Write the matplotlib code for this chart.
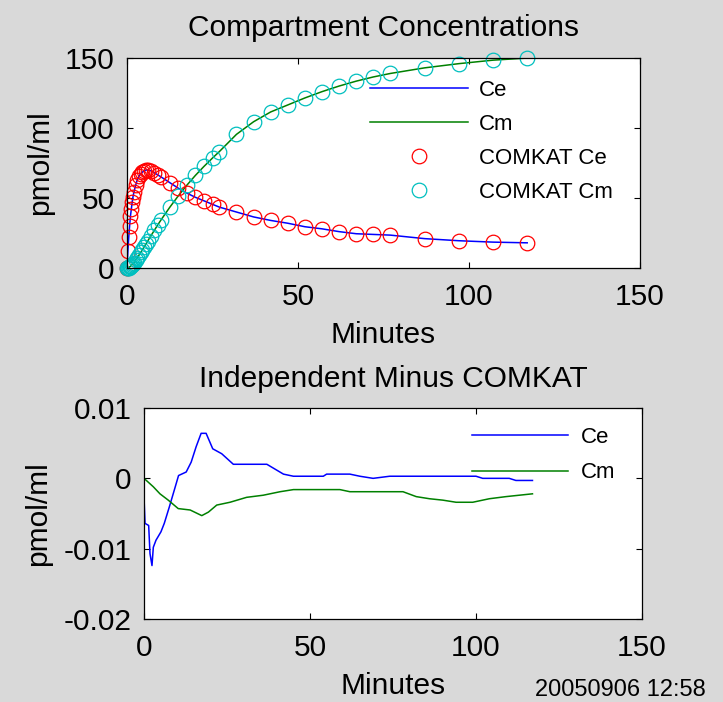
import matplotlib
matplotlib.use('Agg')
import matplotlib.pyplot as plt

plt.rcParams['font.family'] = ['Liberation Sans', 'DejaVu Sans']

# --- sample times (minutes) and compartment concentrations (pmol/ml) ---
t = [0, 0.25, 0.5, 0.75, 1, 1.25, 1.5, 1.75, 2, 2.5, 3, 3.5, 4, 4.5, 5, 5.5, 6,
     7, 8, 9, 10, 12.5, 15, 17.5, 20, 22.5, 25, 27, 32, 37, 42, 47, 52, 57, 62,
     67, 72, 77, 87, 97, 107, 117]
ce = [0, 12, 22, 30, 37, 42, 47, 51, 54, 59, 63, 65.5, 67.5, 68.5, 69.5, 70, 70,
      69.5, 68, 66.5, 65, 61, 57, 53.5, 50.5, 48, 45.5, 43.5, 40, 36.5, 34, 32,
      29.5, 28, 26, 24.5, 24, 23.5, 21, 19.5, 18.5, 18]
cm = [0, 0.1, 0.3, 0.8, 1.3, 1.8, 2.4, 3.1, 3.9, 5.6, 7.3, 9.2, 11.1, 13.1, 15.1,
      17.1, 19.1, 23.1, 27.0, 30.9, 34.6, 43.4, 51.6, 59.2, 66.2, 72.6, 78.6,
      83.2, 95.5, 104.5, 111.5, 116.5, 121.5, 126, 130, 133.5, 136.5, 139, 143,
      146, 148.5, 150]

# --- independent minus COMKAT differences ---
t_dce = [0, 0.3, 1.4, 1.8, 2.4, 2.8, 3.6, 5.1, 6.1, 7.6, 9.1, 10.4, 12.7, 14.2,
         15.7, 17.2, 18.7, 20.7, 23.4, 26.9, 37, 42, 45, 54, 55, 62, 65, 69, 74,
         100, 102, 110, 112, 117]
dce = [-0.0027, -0.0064, -0.0067, -0.0107, -0.0124, -0.0098, -0.0088, -0.0076,
       -0.0064, -0.0041, -0.0017, 0.0004, 0.0009, 0.0023, 0.0045, 0.0064, 0.0064,
       0.0042, 0.0035, 0.002, 0.002, 0.0006, 0.0003, 0.0003, 0.0006, 0.0006,
       0.0003, 0.0, 0.0003, 0.0003, 0.0, 0.0, -0.0003, -0.0003]
t_dcm = [0, 2.8, 4.8, 7.3, 10.3, 13.9, 17.4, 19.4, 21.9, 25.9, 30.9, 35.9, 41, 45,
         59, 62, 78, 82, 86, 90, 94, 99, 104, 109, 117]
dcm = [0, -0.0012, -0.0022, -0.0031, -0.0043, -0.0045, -0.0053, -0.0048, -0.0038,
       -0.0034, -0.0027, -0.0024, -0.0019, -0.0016, -0.0016, -0.0019, -0.0019,
       -0.0026, -0.0029, -0.0031, -0.0034, -0.0034, -0.0029, -0.0026, -0.0022]

xticks = [0, 50, 100, 150]
yticks_top = [0, 50, 100, 150]
yticks_bot = [-0.02, -0.01, 0, 0.01]
yticklabels_bot = ['-0.02', '-0.01', '0', '0.01']

bg = '#d9d9d9'
fs = 21.5
fig = plt.figure(figsize=(7.23, 7.02), dpi=100, facecolor=bg)

ax1 = fig.add_axes([0.1757, 0.6182, 0.7096, 0.2991])
ax2 = fig.add_axes([0.1992, 0.1182, 0.6888, 0.3006])

for ax in (ax1, ax2):
    ax.set_facecolor('white')
    ax.tick_params(direction='in', top=True, right=True, length=4, width=0.8,
                   labelsize=fs)
    ax.tick_params(axis='x', pad=11)
    ax.tick_params(axis='y', pad=9)
    for s in ax.spines.values():
        s.set_linewidth(0.9)
    ax.set_xlim(0, 150)
    ax.set_xticks(xticks)
    ax.set_xlabel('Minutes', fontsize=fs, labelpad=7)
    ax.set_ylabel('pmol/ml', fontsize=fs, labelpad=8)

# top panel
ax1.plot(t, ce, color='#0000ff', lw=1.1, label='Ce')
ax1.plot(t, cm, color='#008000', lw=1.1, label='Cm')
ax1.plot(t, ce, 'o', mfc='none', mec='#ff0000', ms=10.5, mew=0.9,
         label='COMKAT Ce', clip_on=False)
ax1.plot(t, cm, 'o', mfc='none', mec='#00bfbf', ms=10.5, mew=0.9,
         label='COMKAT Cm', clip_on=False)
ax1.set_ylim(0, 150)
ax1.set_yticks(yticks_top)
ax1.set_title('Compartment Concentrations', fontsize=fs, pad=16)
ax1.legend(loc='upper left', bbox_to_anchor=(0.474, 0.895), frameon=False,
           fontsize=16, handlelength=4.4, handletextpad=0.5, labelspacing=0.58,
           borderaxespad=0, borderpad=0)

# bottom panel
ax2.plot(t_dce, dce, color='#0000ff', lw=1.1, label='Ce')
ax2.plot(t_dcm, dcm, color='#008000', lw=1.1, label='Cm')
ax2.set_ylim(-0.02, 0.01)
ax2.set_yticks(yticks_bot)
ax2.set_yticklabels(yticklabels_bot)
ax2.set_title('Independent Minus COMKAT', fontsize=fs, pad=15)
ax2.legend(loc='upper left', bbox_to_anchor=(0.659, 0.91), frameon=False,
           fontsize=16, handlelength=4.3, handletextpad=0.6, labelspacing=0.65,
           borderaxespad=0, borderpad=0)

fig.text(0.976, 0.002, '20050906 12:58', ha='right', va='bottom', fontsize=17)

fig.savefig('out.png', dpi=100, facecolor=fig.get_facecolor())
